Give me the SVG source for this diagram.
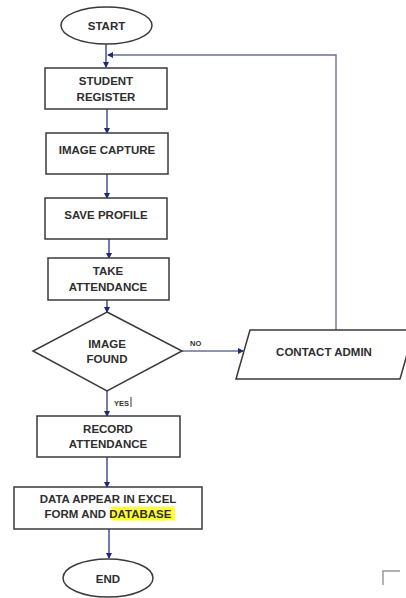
<svg xmlns="http://www.w3.org/2000/svg" width="406" height="598" viewBox="0 0 406 598">
<defs>
<marker id="ah" markerWidth="6" markerHeight="6" refX="5" refY="3" orient="auto" markerUnits="userSpaceOnUse">
<path d="M0,0 L6,3 L0,6 z" fill="#1f2a78"/>
</marker>
<style>
.box{fill:#fff;stroke:#3a3a3a;stroke-width:1.5}
.t{font-family:"Liberation Sans",Arial,sans-serif;font-weight:bold;font-size:11.5px;fill:#2e2e2e;text-anchor:middle}
.s{font-family:"Liberation Sans",Arial,sans-serif;font-weight:bold;font-size:7.5px;fill:#333}
.c{fill:none;stroke:#2a3580;stroke-width:1.3}
.l{fill:none;stroke:#6a6fa0;stroke-width:1.4}
</style>
</defs>
<rect width="406" height="598" fill="#fff"/>
<g id="connectors">
<line class="c" x1="106" y1="44" x2="106" y2="67" marker-end="url(#ah)"/>
<polyline class="l" points="336,330 336,55 108,55" marker-end="url(#ah)"/>
<line class="c" x1="107" y1="109" x2="107" y2="133" marker-end="url(#ah)"/>
<line class="c" x1="107" y1="174" x2="107" y2="198" marker-end="url(#ah)"/>
<line class="c" x1="109" y1="239" x2="109" y2="258" marker-end="url(#ah)"/>
<line class="c" x1="107" y1="300" x2="107" y2="312" marker-end="url(#ah)"/>
<line class="l" x1="182" y1="351" x2="243" y2="351" marker-end="url(#ah)"/>
<text class="s" x="190" y="346">NO</text>
<line class="c" x1="107" y1="391" x2="107" y2="416" marker-end="url(#ah)"/>
<text class="s" x="114" y="406">YES</text>
<line x1="131" y1="397" x2="131" y2="407" stroke="#333" stroke-width="1"/>
<line class="c" x1="107" y1="457" x2="107" y2="487" marker-end="url(#ah)"/>
<line class="c" x1="109" y1="529" x2="109" y2="558" marker-end="url(#ah)"/>
</g>
<g id="start">
<ellipse class="box" cx="106.5" cy="25.5" rx="45.5" ry="18.5"/>
<text class="t" x="106.5" y="29.5">START</text>
</g>
<g id="student-register">
<rect class="box" x="45" y="68" width="122" height="41"/>
<text class="t" x="106" y="84.5">STUDENT</text>
<text class="t" x="106" y="100.5">REGISTER</text>
</g>
<g id="image-capture">
<rect class="box" x="46" y="133" width="122" height="41"/>
<text class="t" x="107" y="154">IMAGE CAPTURE</text>
</g>
<g id="save-profile">
<rect class="box" x="45" y="198" width="122" height="41"/>
<text class="t" x="106" y="218.5">SAVE PROFILE</text>
</g>
<g id="take-attendance">
<rect class="box" x="48" y="258" width="121" height="42"/>
<text class="t" x="108" y="274.5">TAKE</text>
<text class="t" x="108" y="290.5">ATTENDANCE</text>
</g>
<g id="image-found">
<polygon class="box" points="107,312 182,351 107,391 33,351"/>
<text class="t" x="107" y="347.5">IMAGE</text>
<text class="t" x="107" y="362.5">FOUND</text>
</g>
<g id="contact-admin">
<polygon class="box" points="250,330 414,330 400,379 236,379"/>
<text class="t" x="324" y="355.5">CONTACT ADMIN</text>
</g>
<g id="record-attendance">
<rect class="box" x="37" y="416" width="143" height="41"/>
<text class="t" x="108" y="432.5">RECORD</text>
<text class="t" x="108" y="447.5">ATTENDANCE</text>
</g>
<g id="data-appear">
<rect class="box" x="14" y="487" width="188" height="42"/>
<rect x="111" y="506.5" width="64" height="14" fill="#ffff33"/>
<text class="t" x="108" y="502.5">DATA APPEAR IN EXCEL</text>
<text class="t" x="108" y="517.5">FORM AND DATABASE</text>
</g>
<g id="end">
<ellipse class="box" cx="108" cy="578" rx="45" ry="19"/>
<text class="t" x="108" y="582.5">END</text>
</g>
<polyline points="400,571 383,571 383,585" fill="none" stroke="#999" stroke-width="1.5"/>
</svg>
